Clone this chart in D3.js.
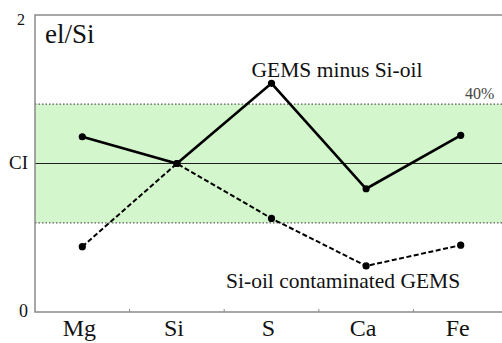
<!DOCTYPE html>
<html>
<head>
<meta charset="utf-8">
<script src="https://cdn.jsdelivr.net/npm/d3@7"></script>
<style>
  html, body { margin: 0; background: #fff; overflow: hidden; }
  svg { display: block; }
  text { font-family: "Liberation Serif", "Times New Roman", serif; fill: #111; }
</style>
</head>
<body>
<div id="chart"></div>
<script>
// elements along x
var elements = ["Mg", "Si", "S", "Ca", "Fe"];
// CI-normalised el/Si ratios
var gemsMinusOil = [1.18, 1.0, 1.54, 0.83, 1.19];
var oilContaminated = [0.44, 1.0, 0.63, 0.31, 0.45];
// y tick labels
var yTicks = [0, 1, 2];
var yTickLabels = ["0", "CI", "2"];
// +/- 40% band around CI
var bandLow = 0.6, bandHigh = 1.4;

var svgWidth = 502, svgHeight = 343;
var margin = { top: 15, right: -6, bottom: 31, left: 35 };
var width = svgWidth - margin.left - margin.right;
var height = svgHeight - margin.top - margin.bottom;
var serif = "'Liberation Serif', 'Times New Roman', serif";

var svg = d3.select("#chart").append("svg")
  .attr("width", svgWidth)
  .attr("height", svgHeight);

var g = svg.append("g")
  .attr("transform", `translate(${margin.left}, ${margin.top})`);

var x = d3.scaleBand().domain(elements).range([0, width]);
var y = d3.scaleLinear().domain([0, 2]).range([height, 0]);

// green 40% band
g.append("rect")
  .attr("x", 0)
  .attr("width", width)
  .attr("y", y(bandHigh))
  .attr("height", y(bandLow) - y(bandHigh))
  .attr("fill", "#d4f6cc");

// dotted band edges
[bandLow, bandHigh].forEach(function(v) {
  g.append("line")
    .attr("x1", 0).attr("x2", width)
    .attr("y1", y(v)).attr("y2", y(v))
    .attr("stroke", "#333")
    .attr("stroke-width", 1)
    .attr("stroke-dasharray", "1.5,2");
});

// CI line
g.append("line")
  .attr("x1", 0).attr("x2", width)
  .attr("y1", y(1)).attr("y2", y(1))
  .attr("stroke", "#222")
  .attr("stroke-width", 1);

// frame
g.append("rect")
  .attr("x", 0).attr("y", 0)
  .attr("width", width).attr("height", height)
  .attr("fill", "none")
  .attr("stroke", "#8a8a8a")
  .attr("stroke-width", 1.5);

// x axis: ticks at band edges, labels centred
var xAxis = g.append("g").attr("transform", `translate(0, ${height})`);
xAxis.selectAll("line.tick")
  .data(elements.slice(1))
  .enter().append("line")
  .attr("x1", d => x(d)).attr("x2", d => x(d))
  .attr("y1", 0).attr("y2", -3)
  .attr("stroke", "#8a8a8a");
xAxis.selectAll("text")
  .data(elements)
  .enter().append("text")
  .attr("x", d => x(d) + x.bandwidth() / 2 - 3)
  .attr("y", 23.5)
  .attr("text-anchor", "middle")
  .attr("font-family", serif)
  .attr("font-size", 24)
  .text(d => d);

// y axis labels
var yLabOffset = [5, 5, 10], yLabRight = [-7, -7, -10], yLabSize = [18, 19, 16];
g.selectAll("text.ylab")
  .data(yTicks)
  .enter().append("text")
  .attr("class", "ylab")
  .attr("x", (d, i) => yLabRight[i])
  .attr("y", (d, i) => y(d) + yLabOffset[i])
  .attr("text-anchor", "end")
  .attr("font-family", serif)
  .attr("font-size", (d, i) => yLabSize[i])
  .text((d, i) => yTickLabels[i]);

var line = d3.line()
  .x((d, i) => x(elements[i]) + x.bandwidth() / 2)
  .y(d => y(d));

// contaminated series (dashed)
g.append("path")
  .datum(oilContaminated)
  .attr("d", line)
  .attr("fill", "none")
  .attr("stroke", "#000")
  .attr("stroke-width", 2)
  .attr("stroke-dasharray", "5,2.5");

// GEMS minus Si-oil (solid)
g.append("path")
  .datum(gemsMinusOil)
  .attr("d", line)
  .attr("fill", "none")
  .attr("stroke", "#000")
  .attr("stroke-width", 2.6);

[oilContaminated, gemsMinusOil].forEach(function(series) {
  g.selectAll(null)
    .data(series)
    .enter().append("circle")
    .attr("cx", (d, i) => x(elements[i]) + x.bandwidth() / 2)
    .attr("cy", d => y(d))
    .attr("r", 3.6)
    .attr("fill", "#000");
});

// annotations
g.append("text")
  .attr("x", 10).attr("y", 28)
  .attr("font-family", serif)
  .attr("font-size", 27)
  .text("el/Si");

g.append("text")
  .attr("x", x("S") + x.bandwidth() / 2 + 65.5).attr("y", 62)
  .attr("text-anchor", "middle")
  .attr("font-family", serif)
  .attr("font-size", 21.5)
  .text("GEMS minus Si-oil");

g.append("text")
  .attr("x", 430).attr("y", y(bandHigh) - 5)
  .attr("font-family", serif)
  .attr("font-size", 16)
  .style("fill", "#444")
  .text("40%");

g.append("text")
  .attr("x", x("Ca") + x.bandwidth() / 2 - 23).attr("y", 273)
  .attr("text-anchor", "middle")
  .attr("font-family", serif)
  .attr("font-size", 21.5)
  .text("Si-oil contaminated GEMS");
</script>
</body>
</html>
